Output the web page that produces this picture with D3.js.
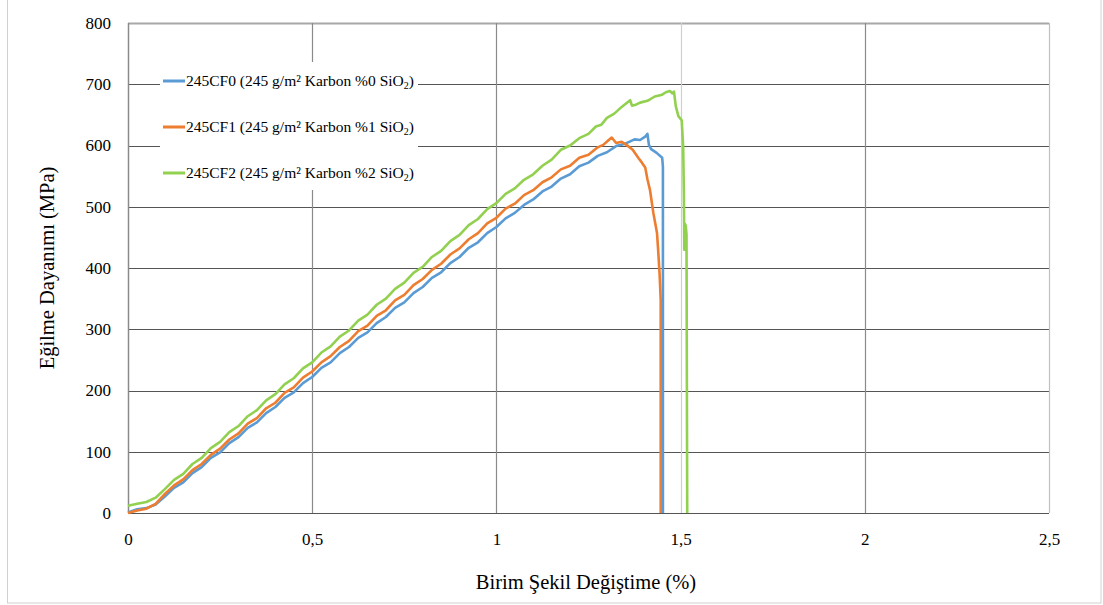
<!DOCTYPE html>
<html>
<head>
<meta charset="utf-8">
<script src="https://cdn.jsdelivr.net/npm/d3@7"></script>
<style>
  html, body { margin: 0; padding: 0; background: #fff; }
  svg { display: block; }
  text { font-family: "Liberation Serif", "Times New Roman", serif; fill: #000; font-weight: normal; }
</style>
</head>
<body>
<svg id="chart" width="1103" height="605"></svg>
<script>
// Strain (%) and flexural stress (MPa) readings for each specimen
const strainCF0 = [0,0.025,0.05,0.075,0.1,0.125,0.15,0.175,0.2,0.225,0.25,0.275,0.3,0.325,0.35,0.375,0.4,0.425,0.45,0.475,0.5,0.525,0.55,0.575,0.6,0.625,0.65,0.675,0.7,0.725,0.75,0.775,0.8,0.825,0.85,0.875,0.9,0.925,0.95,0.975,1.0,1.025,1.05,1.075,1.1,1.125,1.15,1.175,1.2,1.225,1.25,1.275,1.3,1.325,1.35,1.375,1.39,1.405,1.41,1.414,1.42,1.435,1.45,1.452,1.452];
const stressCF0 = [1,6,8,14,27,41,50,65,75,90,99,114,124,139,148,163,173,188,197,212,222,237,246,261,271,286,295,310,320,335,344,359,369,384,393,408,418,433,442,457,467,481,490,503,512,525,533,546,553,566,572,583,589,599,603,610,609,615,619,601,594,588,580,565,0];

const strainCF1 = [0,0.025,0.05,0.075,0.1,0.125,0.15,0.175,0.2,0.225,0.25,0.275,0.3,0.325,0.35,0.375,0.4,0.425,0.45,0.475,0.5,0.525,0.55,0.575,0.6,0.625,0.65,0.675,0.7,0.725,0.75,0.775,0.8,0.825,0.85,0.875,0.9,0.925,0.95,0.975,1.0,1.025,1.05,1.075,1.1,1.125,1.15,1.175,1.2,1.225,1.25,1.275,1.29,1.305,1.313,1.325,1.34,1.353,1.37,1.385,1.395,1.404,1.41,1.417,1.426,1.436,1.439,1.443,1.446,1.446];
const stressCF1 = [0,4,7,15,31,45,55,70,80,95,105,120,130,146,155,171,180,196,205,221,231,246,256,271,281,297,306,322,331,347,356,372,382,397,407,422,432,447,457,473,482,497,505,519,527,540,548,561,567,580,585,597,601,609,613,604,606,601,593,580,572,564,545,527,490,457,430,390,348,0];

const strainCF2 = [0,0.025,0.05,0.075,0.1,0.125,0.15,0.175,0.2,0.225,0.25,0.275,0.3,0.325,0.35,0.375,0.4,0.425,0.45,0.475,0.5,0.525,0.55,0.575,0.6,0.625,0.65,0.675,0.7,0.725,0.75,0.775,0.8,0.825,0.85,0.875,0.9,0.925,0.95,0.975,1.0,1.025,1.05,1.075,1.1,1.125,1.15,1.175,1.2,1.225,1.25,1.27,1.285,1.3,1.32,1.34,1.363,1.368,1.376,1.39,1.41,1.43,1.45,1.46,1.471,1.478,1.482,1.487,1.494,1.499,1.503,1.507,1.509,1.51,1.512,1.514,1.516,1.518];
const stressCF2 = [12,15,18,25,39,54,64,80,90,106,116,132,142,158,168,184,194,210,220,236,246,262,272,288,298,314,324,340,350,366,376,392,402,418,428,444,454,470,480,496,506,521,530,544,553,567,577,593,600,612,619,631,634,645,652,663,674,665,666,670,673,680,683,687,689,685,688,664,648,644,641,598,516,430,472,469,455,0];

const seriesNames = [
  ["245CF0 (245 g/m² Karbon %0 SiO", "2", ")"],
  ["245CF1 (245 g/m² Karbon %1 SiO", "2", ")"],
  ["245CF2 (245 g/m² Karbon %2 SiO", "2", ")"]
];
const seriesColors = ["#5b9bd5", "#ed7d31", "#92d050"];

const xTicks = [0, 0.5, 1, 1.5, 2, 2.5];
const yTicks = [0, 100, 200, 300, 400, 500, 600, 700, 800];
const xTitle = "Birim Şekil Değiştime (%)";
const yTitle = "Eğilme Dayanımı (MPa)";

const svg = d3.select("#chart");

// outer frame
svg.append("rect")
  .attr("x", 7.5).attr("y", -2).attr("width", 1093.5).attr("height", 605)
  .attr("fill", "#fff").attr("stroke", "#d0d0d0").attr("stroke-width", 1);

const x = d3.scaleLinear().domain([0, 2.5]).range([128, 1049]);
const y = d3.scaleLinear().domain([0, 800]).range([513, 23]);

// gridlines
const grid = svg.append("g");
grid.selectAll("line.h").data(yTicks).join("line")
  .attr("x1", x(0)).attr("x2", x(2.5))
  .attr("y1", d => Math.round(y(d)) + 0.5).attr("y2", d => Math.round(y(d)) + 0.5)
  .attr("stroke", d => d === 800 ? "#a8a8a8" : "#555")
  .attr("stroke-width", d => d === 800 ? 2 : 1.2);
grid.selectAll("line.v").data(xTicks).join("line")
  .attr("x1", d => Math.round(x(d)) + 0.5).attr("x2", d => Math.round(x(d)) + 0.5)
  .attr("y1", y(800)).attr("y2", y(0))
  .attr("stroke", d => d === 2.5 ? "#c0c0c0" : (d === 1.5 ? "#cfcfcf" : "#8a8a8a"))
  .attr("stroke-width", d => d === 0 ? 1.5 : 1.2);

// axes (labels only)
const fmt = d => String(d).replace(".", ",");
const xAxis = svg.append("g")
  .attr("transform", `translate(0,${y(0) + 17})`)
  .call(d3.axisBottom(x).tickValues(xTicks).tickSize(0).tickFormat(fmt));
xAxis.select(".domain").remove();
xAxis.selectAll("text").style("font-size", "17px");

const yAxis = svg.append("g")
  .attr("transform", `translate(${x(0) - 14},0)`)
  .call(d3.axisLeft(y).tickValues(yTicks).tickSize(0).tickFormat(d3.format("d")));
yAxis.select(".domain").remove();
yAxis.selectAll("text").style("font-size", "17px");

// axis titles
svg.append("text")
  .attr("x", 586).attr("y", 589)
  .attr("text-anchor", "middle").style("font-size", "20.5px")
  .text(xTitle);
svg.append("text")
  .attr("transform", "translate(54,268) rotate(-90)")
  .attr("text-anchor", "middle").style("font-size", "20.5px")
  .text(yTitle);

// curves
const line = d3.line().x(d => x(d[0])).y(d => y(d[1]));
const curves = [
  d3.zip(strainCF0, stressCF0),
  d3.zip(strainCF1, stressCF1),
  d3.zip(strainCF2, stressCF2)
];
svg.append("g").selectAll("path").data(curves).join("path")
  .attr("d", line)
  .attr("fill", "none")
  .attr("stroke", (d, i) => seriesColors[i])
  .attr("stroke-width", 2.6)
  .attr("stroke-linejoin", "round");

// legend
const legend = svg.append("g");
legend.append("rect")
  .attr("x", 160).attr("y", 62).attr("width", 258).attr("height", 128)
  .attr("fill", "#fff");
const rows = legend.selectAll("g").data(seriesNames).join("g")
  .attr("transform", (d, i) => `translate(163,${81 + i * 46})`);
rows.append("line")
  .attr("x1", 0).attr("x2", 22).attr("y1", 0).attr("y2", 0)
  .attr("stroke", (d, i) => seriesColors[i]).attr("stroke-width", 3);
const lt = rows.append("text")
  .attr("x", 23).attr("y", 5).style("font-size", "15.5px");
lt.append("tspan").text(d => d[0]);
lt.append("tspan").style("font-size", "10px").attr("dy", 3).text(d => d[1]);
lt.append("tspan").attr("dy", -3).text(d => d[2]);
</script>
</body>
</html>
